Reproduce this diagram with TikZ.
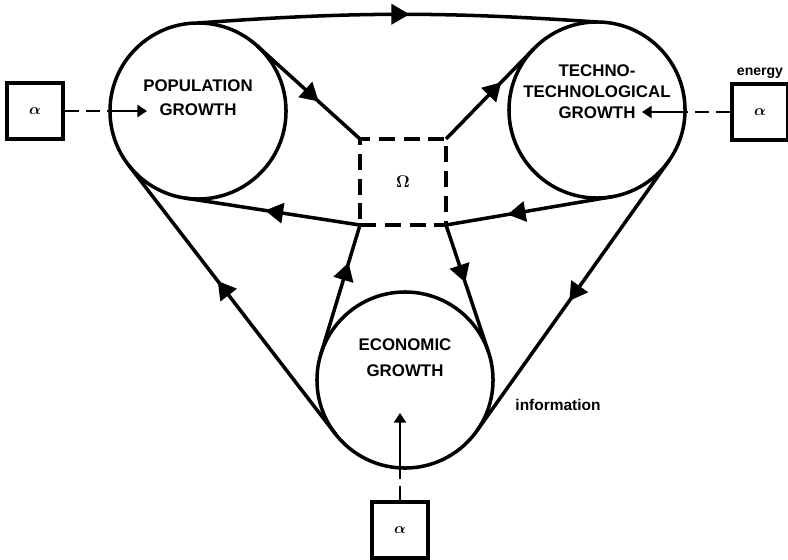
\documentclass[tikz,border=0pt]{standalone}
\usepackage{fontspec}
\setmainfont{Liberation Sans}
\usetikzlibrary{arrows.meta, decorations.markings, positioning}

\tikzstyle{growth} = [circle, draw, line width=2.5pt, minimum size=4.4cm, inner sep=0pt, outer sep=0pt]
\tikzstyle{caption} = [align=center, font=\bfseries\fontsize{12}{15}\selectfont]
\tikzstyle{source} = [rectangle, draw, line width=2.5pt, minimum size=1.4cm, inner sep=0pt, font=\boldmath\fontsize{11}{13}\selectfont]
\tikzstyle{hub} = [rectangle, draw, line width=2.5pt, dash pattern=on 0.4cm off 0.22cm, minimum size=2.15cm, inner sep=0pt, outer sep=0pt, font=\boldmath\fontsize{13}{15}\selectfont]
\tikzstyle{feed} = [draw, line width=1.6pt, dash pattern=on 0.35cm off 0.18cm]
\tikzstyle{feedin} = [draw, line width=1.6pt, -{Triangle[length=0.24cm, width=0.3cm]}]
\tikzset{flow/.style={draw, line width=2.5pt, postaction=decorate,
    decoration={markings, mark=at position #1 with {\arrow{Triangle[length=0.45cm, width=0.5cm]}}}},
  flow/.default=0.55}

\begin{document}
\begin{tikzpicture}[x=0.025cm, y=-0.025cm]
    \useasboundingbox (0,0) rectangle (788,559);

    % growth circles and the omega box
    \node[growth] (pop) at (198,111) {};
    \node[growth] (tech) at (597,110) {};
    \node[growth] (econ) at (405,380) {};
    \node[hub] (omega) at (403,182) {$\Omega$};

    \node[caption] (poptext) at ([yshift=0.325cm]pop.center) {POPULATION\\[2pt]GROWTH};
    \node[caption] (techtext) at ([yshift=0.45cm]tech.center) {TECHNO-\\TECHNOLOGICAL\\GROWTH};
    \node[caption] (econtext) at ([yshift=0.55cm]econ.center) {ECONOMIC\\[3.5pt]GROWTH};

    % alpha inputs
    \node[source] (alphaL) at (35,111) {$\alpha$};
    \node[source] (alphaR) at (760,112) {$\alpha$};
    \node[source] (alphaB) at (400,530) {$\alpha$};
    \node[caption, font=\bfseries\fontsize{10}{12}\selectfont] (energy) at (760,73) {energy};
    \node[caption, font=\bfseries\fontsize{11}{13}\selectfont] (info) at (558,405) {information};

    \coordinate (popin) at (147,111);
    \coordinate (techin) at (642,112);
    \coordinate (econin) at (400,413);

    \draw[feed] (alphaL) -- (pop.west);
    \draw[feedin] (pop.west) -- (popin);
    \draw[feed] (alphaR) -- (alphaR -| tech.east);
    \draw[feedin] (alphaR -| tech.east) -- (techin);
    \draw[feed] (alphaB) -- (alphaB |- econ.south);
    \draw[feedin] (alphaB |- econ.south) -- (econin);

    % outer loop
    \draw[flow=0.53] (pop.90) to[bend left=4] (tech.90);
    \draw[flow=0.52] (tech.-35) -- (econ.-35);
    \draw[flow=0.57] (econ.-142) -- (pop.-142);

    % lines through omega
    \draw[flow=0.6] (pop.48) -- (omega.north west);
    \draw[flow=0.63] (omega.north east) -- (tech.136);
    \draw[flow=0.63] (tech.-80) -- (omega.south east);
    \draw[flow=0.54] (omega.south west) -- (pop.-99);
    \draw[flow=0.71] (econ.163) -- (omega.south west);
    \draw[flow=0.45] (omega.south east) -- (econ.18);
\end{tikzpicture}
\end{document}
